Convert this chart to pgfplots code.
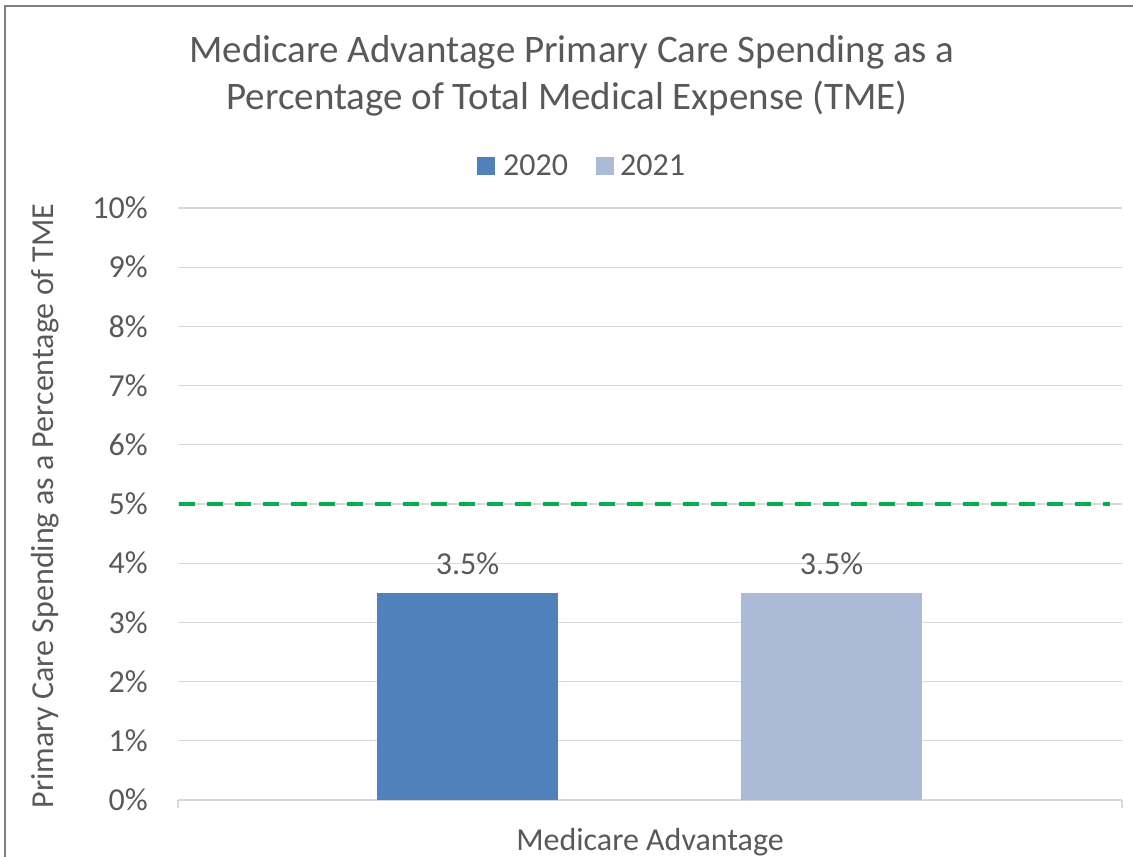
\documentclass[border=0pt]{standalone}
\usepackage{pgfplots}
\pgfplotsset{compat=1.18}
\usepackage{fontspec}
\setmainfont{Carlito}
\definecolor{txt}{HTML}{595959}
\definecolor{gridgray}{HTML}{D9D9D9}
\definecolor{framegray}{HTML}{808080}
\definecolor{bluea}{HTML}{4F81BD}
\definecolor{blueb}{HTML}{AABAD7}
\definecolor{target}{HTML}{00B050}
\begin{document}
\begin{tikzpicture}[x=1pt,y=1pt]
\useasboundingbox (0,0) rectangle (1133,857);
% chart frame (right and bottom edges fall outside the picture)
\draw[framegray, line width=2.5pt] (5,-10) -- (5,851) -- (1145,851);

\begin{axis}[
    at={(178pt,57pt)}, anchor=south west,
    scale only axis, width=944pt, height=592pt,
    xmin=0, xmax=944, ymin=0, ymax=10,
    ytick distance=1,
    yticklabel={\pgfmathprintnumber{\tick}\%},
    /pgf/number format/assume math mode=true,
    xtick=\empty,
    ytick style={draw=none},
    ymajorgrids,
    grid style={draw=gridgray, line width=1.3pt},
    axis x line*=bottom,
    axis y line*=left,
    x axis line style={draw=gridgray, line width=1.3pt},
    y axis line style={draw=none},
    tick label style={font=\fontsize{32}{36}\selectfont, text=txt},
    yticklabel style={inner sep=0pt, xshift=-30pt},
    clip=false,
]
\addplot[ybar, bar shift=0pt, bar width=181pt, fill=bluea, draw=none,
    nodes near coords={\pgfmathprintnumber[fixed, precision=1, fixed zerofill]{\pgfplotspointmeta}\%},
    nodes near coords style={anchor=base, inner sep=0pt, yshift=18pt, font=\fontsize{32}{36}\selectfont, text=txt}]
    coordinates {(289.5,3.5)};
\addplot[ybar, bar shift=0pt, bar width=181pt, fill=blueb, draw=none,
    nodes near coords={\pgfmathprintnumber[fixed, precision=1, fixed zerofill]{\pgfplotspointmeta}\%},
    nodes near coords style={anchor=base, inner sep=0pt, yshift=18pt, font=\fontsize{32}{36}\selectfont, text=txt}]
    coordinates {(653.5,3.5)};
% 5% target line
\addplot[target, line width=4pt, dash pattern=on 16pt off 12pt] coordinates {(1,5) (932,5)};
\end{axis}

% category axis end ticks
\draw[gridgray, line width=1.3pt] (178,57) -- (178,49);
\draw[gridgray, line width=1.3pt] (1122,57) -- (1122,49);

% titles and labels
\node[text=txt, font=\fontsize{39}{47}\selectfont, anchor=base] at (572,794)
    {Medicare Advantage Primary Care Spending as a};
\node[text=txt, font=\fontsize{39}{47}\selectfont, anchor=base] at (567,747)
    {Percentage of Total Medical Expense (TME)};
\node[text=txt, font=\fontsize{32}{36}\selectfont, anchor=base] at (650,6) {Medicare Advantage};
\node[text=txt, font=\fontsize{32}{36}\selectfont, rotate=90] at (45,351) {Primary Care Spending as a Percentage of TME};

% legend
\fill[bluea] (477,682) rectangle (495,700);
\node[text=txt, font=\fontsize{32}{36}\selectfont, anchor=base west, inner sep=0pt] at (503,681) {2020};
\fill[blueb] (596,682) rectangle (614,700);
\node[text=txt, font=\fontsize{32}{36}\selectfont, anchor=base west, inner sep=0pt] at (620,681) {2021};
\end{tikzpicture}
\end{document}
